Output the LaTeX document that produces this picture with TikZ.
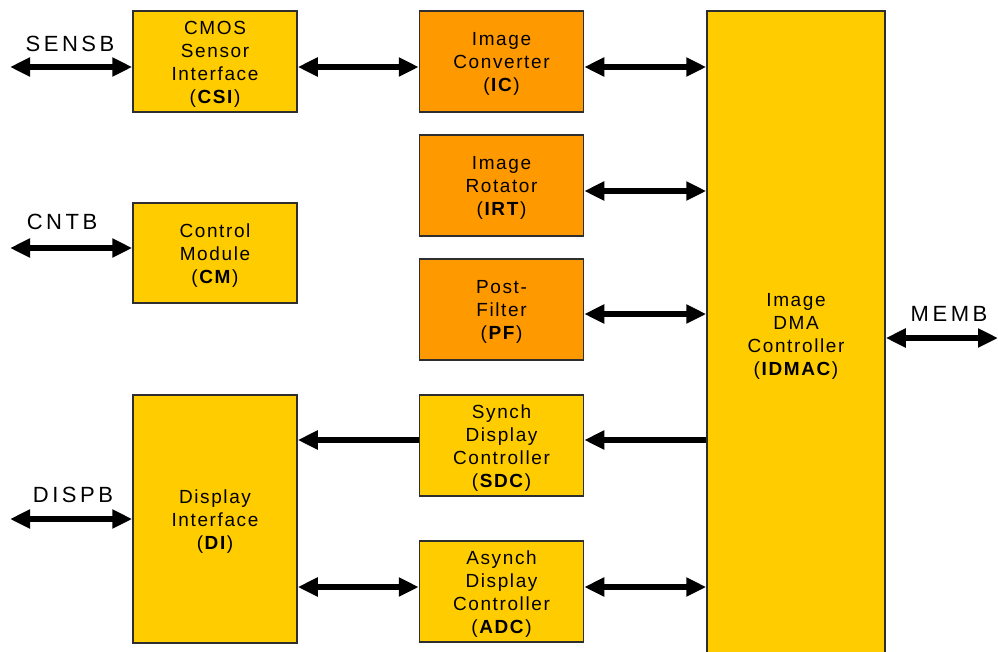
\documentclass[tikz,border=0pt]{standalone}
\usepackage{fontspec}
\setmainfont{Liberation Sans}[LetterSpace=8.5]
\newfontfamily\buslabelfont{Liberation Sans}[LetterSpace=16]
\usetikzlibrary{arrows.meta}
\definecolor{blockyellow}{HTML}{FFCC00}
\definecolor{blockorange}{HTML}{FF9900}
\definecolor{edgegray}{HTML}{2E2E2E}
\tikzset{
  blocktext/.style={align=center, font=\fontsize{19}{23}\selectfont,
    inner sep=0pt, yshift=-2.5pt},
  % a box whose caption sits slightly below its centre
  block/.style={draw=edgegray, line width=1.5pt, fill=blockyellow,
    minimum width=164pt, minimum height=101pt, inner sep=0pt,
    label={[blocktext]center:#1}},
  hotblock/.style={block={#1}, fill=blockorange},
  bus/.style={line width=6pt, draw=black,
    arrows={Triangle[length=20pt,width=18pt]-Triangle[length=20pt,width=18pt]}},
  oneway/.style={line width=6pt, draw=black,
    arrows={-Triangle[length=20pt,width=18pt]}},
  buslabel/.style={font=\buslabelfont\fontsize{22}{24}\selectfont, inner sep=0pt}
}
\begin{document}
\begin{tikzpicture}[x=1pt, y=-1pt]
\useasboundingbox (0,0) rectangle (998,651);
\clip (0,0) rectangle (998,651);

% blocks
\node[block={CMOS\\Sensor\\Interface\\(\textbf{CSI})}] (csi) at (215,61.5) {};
\node[block={Control\\Module\\(\textbf{CM})}, minimum height=100pt] (cm) at (215,253) {};
\node[block={Display\\Interface\\(\textbf{DI})}, minimum height=248pt] (di) at (215,519) {};
\node[hotblock={Image\\Converter\\(\textbf{IC})}] (ic) at (501.5,61.5) {};
\node[hotblock={Image\\Rotator\\(\textbf{IRT})}] (irt) at (501.5,185.5) {};
\node[hotblock={Post-\\Filter\\(\textbf{PF})}] (pf) at (501.5,309.5) {};
\node[block={Synch\\Display\\Controller\\(\textbf{SDC})}] (sdc) at (501.5,445.5) {};
\node[block={Asynch\\Display\\Controller\\(\textbf{ADC})}] (adc) at (501.5,591.5) {};
\node[block={Image\\DMA\\Controller\\(\textbf{IDMAC})},
      minimum width=178pt, minimum height=646pt] (idmac) at (796,334) {};

% external bus ends
\coordinate (sensb) at (10,67);
\coordinate (cntb)  at (10,248);
\coordinate (dispb) at (10,519);
\coordinate (memb)  at (998,338);

% bus labels
\node[buslabel] (sensbl) at (70,44)  {SENSB};
\node[buslabel] (cntbl)  at (62,222) {CNTB};
\node[buslabel] (dispbl) at (73,495) {DISPB};
\node[buslabel] (membl)  at (949,314) {MEMB};

% row reference points
\coordinate (r1) at (0,67);
\coordinate (r2) at (0,191);
\coordinate (r3) at (0,314);
\coordinate (r4) at (0,440);
\coordinate (r5) at (0,587);

% connectors
\draw[bus] (sensb) -- (sensb -| csi.west);
\draw[bus] (cntb)  -- (cntb -| cm.west);
\draw[bus] (dispb) -- (dispb -| di.west);
\draw[bus] (memb)  -- (memb -| idmac.east);

\draw[bus] (r1 -| csi.east) -- (r1 -| ic.west);
\draw[bus] (r1 -| ic.east)  -- (r1 -| idmac.west);
\draw[bus] (r2 -| irt.east) -- (r2 -| idmac.west);
\draw[bus] (r3 -| pf.east)  -- (r3 -| idmac.west);

\draw[oneway] (r4 -| idmac.west) -- (r4 -| sdc.east);
\draw[oneway] (r4 -| sdc.west)   -- (r4 -| di.east);

\draw[bus] (r5 -| di.east)  -- (r5 -| adc.west);
\draw[bus] (r5 -| adc.east) -- (r5 -| idmac.west);
\end{tikzpicture}
\end{document}
